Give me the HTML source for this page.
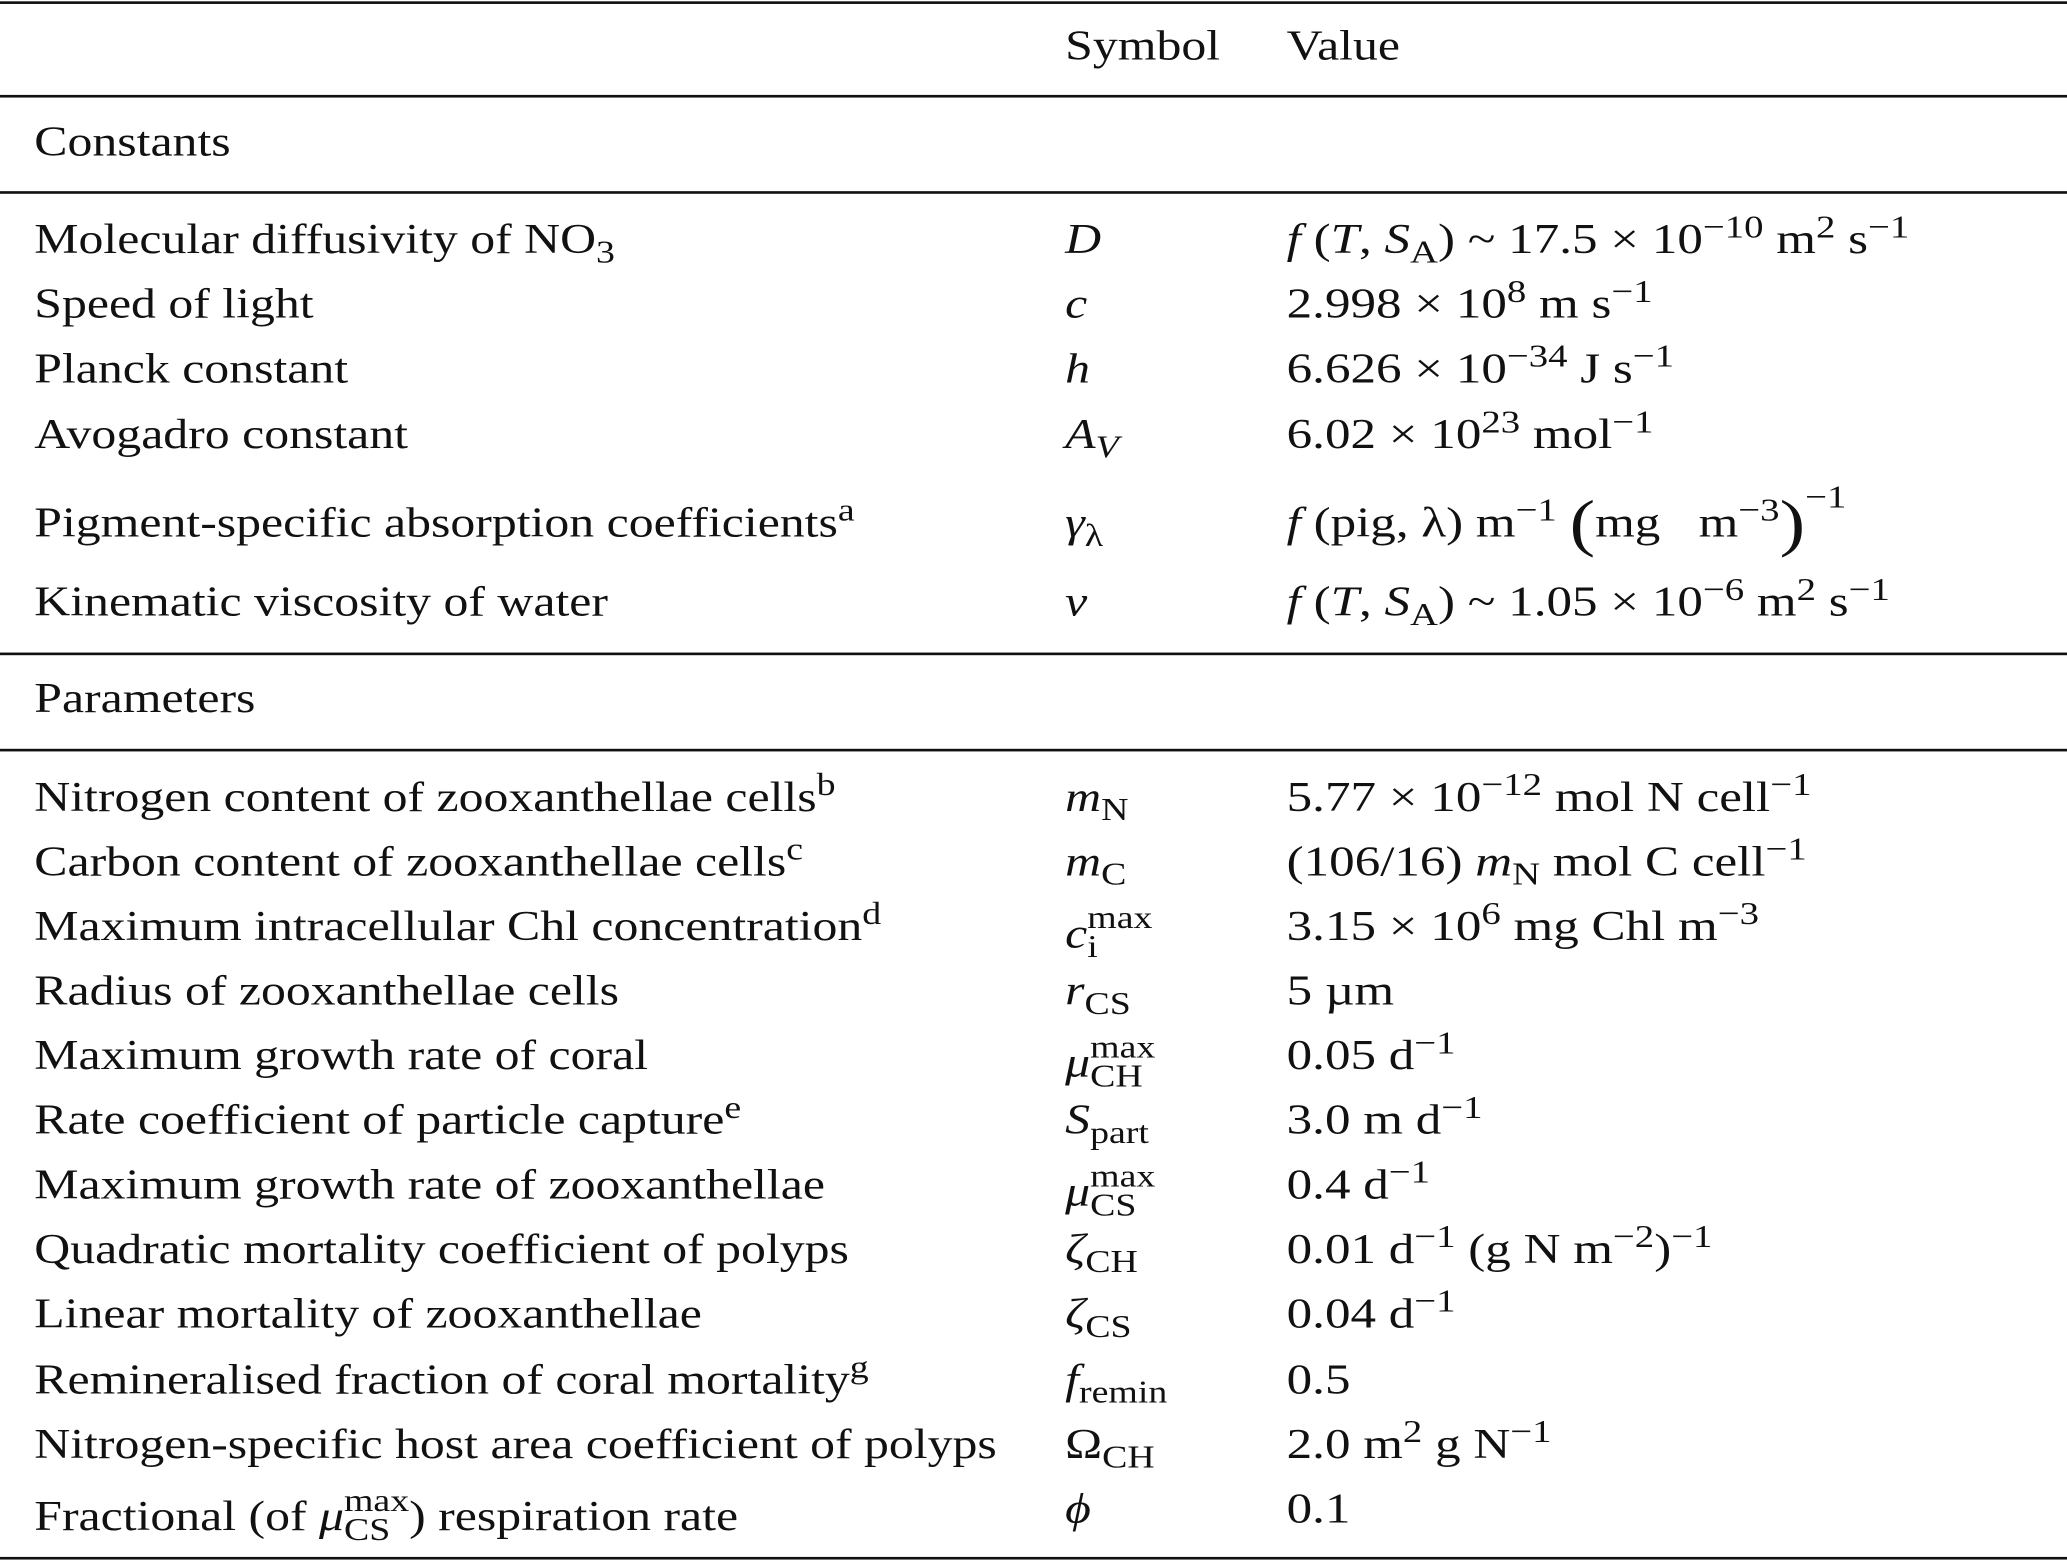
<!DOCTYPE html>
<html><head><meta charset="utf-8">
<style>
html,body{margin:0;padding:0;background:#fff;}
body{width:2067px;height:1561px;overflow:hidden;position:relative;}
#t{position:absolute;left:0;top:0;width:1568px;height:1184px;transform:scale(1.3183);transform-origin:0 0;font-family:"Liberation Serif",serif;font-size:32px;color:#111;}
.r{position:absolute;left:0;width:1568px;height:32px;line-height:32px;white-space:nowrap;}
.r span.c1,.r span.c2,.r span.c3{position:absolute;transform:scaleX(1.18);transform-origin:0 50%;}
.r span.c3{transform:scaleX(1.21);}
.r span.c1{left:26px;}
.r span.c2{left:808px;}
.r span.c3{left:976px;}
.rule{position:absolute;left:0;width:1568px;height:1.6px;background:#111;}
sup,sub{font-size:76%;line-height:0;position:relative;vertical-align:baseline;}
sup{top:-0.5em;} sub{top:0.3em;}
i{font-style:italic;}
.ss{display:inline-block;vertical-align:-0.3em;line-height:0.9;font-size:76%;text-align:left;}
.ss b{display:block;font-weight:normal;}
.big{font-size:150%;vertical-align:-0.12em;}
</style></head><body>
<div id="t">
<div class="rule" style="top:1px"></div>
<div class="r" style="top:18px"><span class="c2">Symbol</span><span class="c3" style="transform:scaleX(1.18)">Value</span></div>
<div class="rule" style="top:72px"></div>
<div class="r" style="top:91px"><span class="c1">Constants</span></div>
<div class="rule" style="top:145px"></div>

<div class="r" style="top:165px"><span class="c1">Molecular diffusivity of NO<sub>3</sub></span><span class="c2"><i>D</i></span><span class="c3"><i>f</i> (<i>T</i>, <i>S</i><sub>A</sub>) ~ 17.5 × 10<sup>−10</sup> m<sup>2</sup> s<sup>−1</sup></span></div>
<div class="r" style="top:214px"><span class="c1">Speed of light</span><span class="c2"><i>c</i></span><span class="c3">2.998 × 10<sup>8</sup> m s<sup>−1</sup></span></div>
<div class="r" style="top:263px"><span class="c1">Planck constant</span><span class="c2"><i>h</i></span><span class="c3">6.626 × 10<sup>−34</sup> J s<sup>−1</sup></span></div>
<div class="r" style="top:313px"><span class="c1">Avogadro constant</span><span class="c2"><i>A</i><sub><i>V</i></sub></span><span class="c3">6.02 × 10<sup>23</sup> mol<sup>−1</sup></span></div>
<div class="r" style="top:380px"><span class="c1">Pigment-specific absorption coefficients<sup>a</sup></span><span class="c2"><i>γ</i><sub>λ</sub></span><span class="c3"><i>f</i> (pig, λ) m<sup>−1</sup> <span class="big">(</span>mg &nbsp; m<sup>−3</sup><span class="big">)</span><sup style="top:-0.9em">−1</sup></span></div>
<div class="r" style="top:440px"><span class="c1">Kinematic viscosity of water</span><span class="c2"><i>ν</i></span><span class="c3"><i>f</i> (<i>T</i>, <i>S</i><sub>A</sub>) ~ 1.05 × 10<sup>−6</sup> m<sup>2</sup> s<sup>−1</sup></span></div>

<div class="rule" style="top:495px"></div>
<div class="r" style="top:513px"><span class="c1">Parameters</span></div>
<div class="rule" style="top:568px"></div>

<div class="r" style="top:588px"><span class="c1">Nitrogen content of zooxanthellae cells<sup>b</sup></span><span class="c2"><i>m</i><sub>N</sub></span><span class="c3">5.77 × 10<sup>−12</sup> mol N cell<sup>−1</sup></span></div>
<div class="r" style="top:637px"><span class="c1">Carbon content of zooxanthellae cells<sup>c</sup></span><span class="c2"><i>m</i><sub>C</sub></span><span class="c3">(106/16) <i>m</i><sub>N</sub> mol C cell<sup>−1</sup></span></div>
<div class="r" style="top:686px"><span class="c1">Maximum intracellular Chl concentration<sup>d</sup></span><span class="c2"><i>c</i><span class="ss"><b>max</b><b>i</b></span></span><span class="c3">3.15 × 10<sup>6</sup> mg Chl m<sup>−3</sup></span></div>
<div class="r" style="top:735px"><span class="c1">Radius of zooxanthellae cells</span><span class="c2"><i>r</i><sub>CS</sub></span><span class="c3">5 µm</span></div>
<div class="r" style="top:784px"><span class="c1">Maximum growth rate of coral</span><span class="c2"><i>μ</i><span class="ss"><b>max</b><b>CH</b></span></span><span class="c3">0.05 d<sup>−1</sup></span></div>
<div class="r" style="top:833px"><span class="c1">Rate coefficient of particle capture<sup>e</sup></span><span class="c2"><i>S</i><sub>part</sub></span><span class="c3">3.0 m d<sup>−1</sup></span></div>
<div class="r" style="top:882px"><span class="c1">Maximum growth rate of zooxanthellae</span><span class="c2"><i>μ</i><span class="ss"><b>max</b><b>CS</b></span></span><span class="c3">0.4 d<sup>−1</sup></span></div>
<div class="r" style="top:931px"><span class="c1">Quadratic mortality coefficient of polyps</span><span class="c2"><i>ζ</i><sub>CH</sub></span><span class="c3">0.01 d<sup>−1</sup> (g N m<sup>−2</sup>)<sup>−1</sup></span></div>
<div class="r" style="top:980px"><span class="c1">Linear mortality of zooxanthellae</span><span class="c2"><i>ζ</i><sub>CS</sub></span><span class="c3">0.04 d<sup>−1</sup></span></div>
<div class="r" style="top:1030px"><span class="c1">Remineralised fraction of coral mortality<sup>g</sup></span><span class="c2"><i>f</i><sub>remin</sub></span><span class="c3">0.5</span></div>
<div class="r" style="top:1079px"><span class="c1">Nitrogen-specific host area coefficient of polyps</span><span class="c2">Ω<sub>CH</sub></span><span class="c3">2.0 m<sup>2</sup> g N<sup>−1</sup></span></div>
<div class="r" style="top:1128px"><span class="c1">Fractional (of <i>μ</i><span class="ss"><b>max</b><b>CS</b></span>) respiration rate</span><span class="c2"><i>ϕ</i></span><span class="c3">0.1</span></div>
<div class="rule" style="top:1181px"></div>
</div>
</body></html>
